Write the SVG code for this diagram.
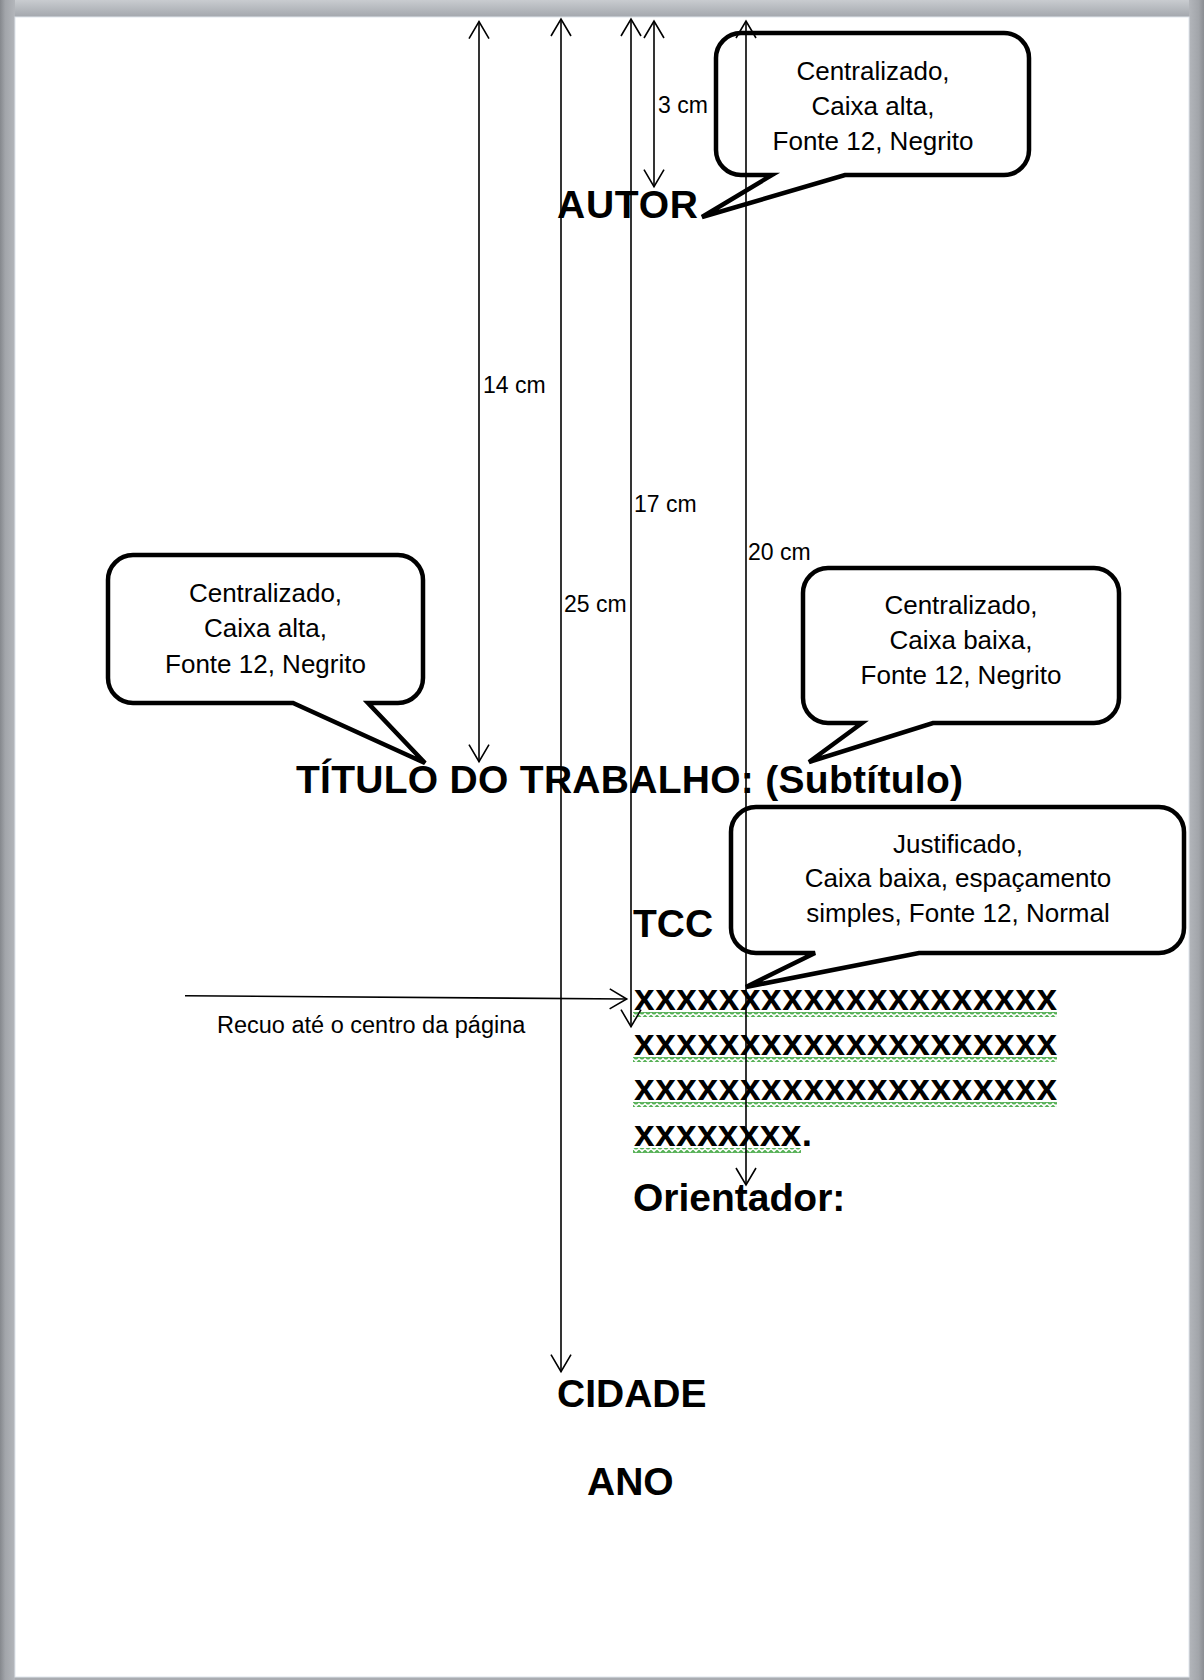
<svg xmlns="http://www.w3.org/2000/svg" width="1204" height="1680" viewBox="0 0 1204 1680">
<defs>
<style>
.bal{fill:#fff;stroke:#000;stroke-width:4.5;stroke-linejoin:miter}
.bt{font-family:"Liberation Sans",Arial,sans-serif;font-size:26px;fill:#000;text-anchor:middle}
.lbl{font-family:"Liberation Sans",Arial,sans-serif;font-size:23px;fill:#000}
.big{font-family:"Liberation Sans",Arial,sans-serif;font-size:39px;font-weight:bold;fill:#000}
.xs{font-family:"Liberation Sans",Arial,sans-serif;font-size:37px;font-weight:bold;fill:#000}
.ln{stroke:#000;stroke-width:1.6;fill:none}
</style>
<linearGradient id="topg" x1="0" y1="0" x2="0" y2="1">
<stop offset="0" stop-color="#c9ccd0"/>
<stop offset="1" stop-color="#a3a7ad"/>
</linearGradient>
<linearGradient id="leftg" x1="0" y1="0" x2="1" y2="0">
<stop offset="0" stop-color="#85888d"/>
<stop offset="0.35" stop-color="#a2a5aa"/>
<stop offset="1" stop-color="#b3b6bb"/>
</linearGradient>
<linearGradient id="rightg" x1="0" y1="0" x2="1" y2="0">
<stop offset="0" stop-color="#b3b6bb"/>
<stop offset="0.65" stop-color="#a2a5aa"/>
<stop offset="1" stop-color="#8a8d92"/>
</linearGradient>
<marker id="ah" viewBox="-18 -11 20 22" markerWidth="20" markerHeight="22" refX="0" refY="0" orient="auto-start-reverse" markerUnits="userSpaceOnUse">
<path d="M-17,-10 L0,0 L-17,10" fill="none" stroke="#000" stroke-width="1.6"/>
</marker>
<pattern id="wave" x="0" y="0" width="6" height="5" patternUnits="userSpaceOnUse">
<path d="M0,4 L3,1 L6,4" fill="none" stroke="#55b055" stroke-width="2.2"/>
</pattern>
</defs>

<g id="frame">
<rect x="0" y="0" width="1204" height="1680" fill="#a9acb1"/>
<rect x="0" y="0" width="1204" height="17" fill="url(#topg)"/>
<rect x="0" y="0" width="15" height="1680" fill="url(#leftg)"/>
<rect x="1189" y="0" width="15" height="1680" fill="url(#rightg)"/>
<rect x="15" y="17" width="1174" height="1660" fill="#ffffff" stroke="#dfe5ec" stroke-width="1"/>
</g>

<g id="balloon-autor">
<path class="bal" d="M741,33 H1004 A25,25 0 0 1 1029,58 V150 A25,25 0 0 1 1004,175 H845 L702,217 L772,175 H741 A25,25 0 0 1 716,150 V58 A25,25 0 0 1 741,33 Z"/>
<text class="bt" x="873" y="80">Centralizado,</text>
<text class="bt" x="873" y="115">Caixa alta,</text>
<text class="bt" x="873" y="150">Fonte 12, Negrito</text>
</g>

<g id="balloon-titulo">
<path class="bal" d="M133,555 H398 A25,25 0 0 1 423,580 V678 A25,25 0 0 1 398,703 H368 L425,763 L293,703 H133 A25,25 0 0 1 108,678 V580 A25,25 0 0 1 133,555 Z"/>
<text class="bt" x="265.5" y="602">Centralizado,</text>
<text class="bt" x="265.5" y="637">Caixa alta,</text>
<text class="bt" x="265.5" y="673">Fonte 12, Negrito</text>
</g>

<g id="balloon-subtitulo">
<path class="bal" d="M828,568 H1094 A25,25 0 0 1 1119,593 V698 A25,25 0 0 1 1094,723 H933 L809,762 L862,723 H828 A25,25 0 0 1 803,698 V593 A25,25 0 0 1 828,568 Z"/>
<text class="bt" x="961" y="614">Centralizado,</text>
<text class="bt" x="961" y="649">Caixa baixa,</text>
<text class="bt" x="961" y="684">Fonte 12, Negrito</text>
</g>

<g id="balloon-natureza">
<path class="bal" d="M756,807 H1159 A25,25 0 0 1 1184,832 V928 A25,25 0 0 1 1159,953 H919 L746,987 L815,953 H756 A25,25 0 0 1 731,928 V832 A25,25 0 0 1 756,807 Z"/>
<text class="bt" x="958" y="853">Justificado,</text>
<text class="bt" x="958" y="887">Caixa baixa, espaçamento</text>
<text class="bt" x="958" y="922">simples, Fonte 12, Normal</text>
</g>

<g id="autor"><text class="big" x="557" y="218" textLength="141" lengthAdjust="spacing">AUTOR</text></g>
<g id="titulo"><text class="big" x="296" y="793" textLength="667" lengthAdjust="spacing">TÍTULO DO TRABALHO: (Subtítulo)</text></g>
<g id="tcc"><text class="big" x="633" y="937">TCC</text></g>
<g id="natureza">
<rect x="633" y="1012" width="424" height="5" fill="url(#wave)"/>
<rect x="633" y="1057" width="424" height="5" fill="url(#wave)"/>
<rect x="633" y="1102" width="424" height="5" fill="url(#wave)"/>
<rect x="633" y="1148" width="168" height="5" fill="url(#wave)"/>
<text class="xs" x="634" y="1010" textLength="423" lengthAdjust="spacing">xxxxxxxxxxxxxxxxxxxx</text>
<text class="xs" x="634" y="1055" textLength="423" lengthAdjust="spacing">xxxxxxxxxxxxxxxxxxxx</text>
<text class="xs" x="634" y="1100" textLength="423" lengthAdjust="spacing">xxxxxxxxxxxxxxxxxxxx</text>
<text class="xs" x="634" y="1146" textLength="178" lengthAdjust="spacing">xxxxxxxx.</text>
</g>
<g id="orientador"><text class="big" x="633" y="1211">Orientador:</text></g>
<g id="cidade"><text class="big" x="557" y="1407">CIDADE</text></g>
<g id="ano"><text class="big" x="587" y="1495">ANO</text></g>

<g id="connectors">
<line class="ln" x1="479" y1="21.7" x2="479" y2="761.7" marker-start="url(#ah)" marker-end="url(#ah)"/>
<line class="ln" x1="561" y1="19" x2="561" y2="1371.7" marker-start="url(#ah)" marker-end="url(#ah)"/>
<line class="ln" x1="631" y1="19" x2="631" y2="1026.7" marker-start="url(#ah)" marker-end="url(#ah)"/>
<line class="ln" x1="654" y1="21" x2="654" y2="186.7" marker-start="url(#ah)" marker-end="url(#ah)"/>
<line class="ln" x1="746" y1="21" x2="746" y2="1185" marker-start="url(#ah)" marker-end="url(#ah)"/>
<line class="ln" x1="185" y1="995.7" x2="626.7" y2="999" marker-end="url(#ah)"/>
<text class="lbl" x="658" y="112.7">3 cm</text>
<text class="lbl" x="483" y="392.7">14 cm</text>
<text class="lbl" x="634" y="511.7">17 cm</text>
<text class="lbl" x="748" y="560">20 cm</text>
<text class="lbl" x="564" y="611.7">25 cm</text>
<text class="lbl" x="217" y="1032.7" style="font-size:23.5px">Recuo até o centro da página</text>
</g>
</svg>
